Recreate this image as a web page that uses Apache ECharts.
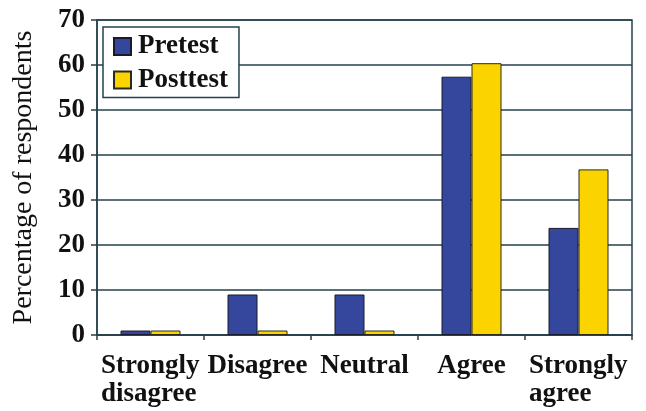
<!DOCTYPE html>
<html>
<head>
<meta charset="utf-8">
<script src="https://cdn.jsdelivr.net/npm/echarts@6/dist/echarts.min.js"></script>
<style>
  html, body { margin: 0; padding: 0; background: #ffffff; }
  #chart { width: 646px; height: 411px; }
</style>
</head>
<body>
<div id="chart"></div>
<script>
// Survey responses before and after the session (percent of respondents)
const categories = ['Strongly\ndisagree', 'Disagree', 'Neutral', 'Agree', 'Strongly\nagree'];
const pretest = [1, 9, 9, 57.4, 23.8];
const posttest = [1, 1, 1, 60.4, 36.8];
const seriesNames = ['Pretest', 'Posttest'];
const yTicks = { min: 0, max: 70, interval: 10 };

const serif = '"Liberation Serif", "Times New Roman", serif';
const ink = '#111111';
const rule = '#24424c';

const chart = echarts.init(document.getElementById('chart'), null, { renderer: 'canvas' });

chart.setOption({
  backgroundColor: '#ffffff',
  animation: false,
  grid: {
    left: 97, right: 14, top: 20, bottom: 76,
    outerBoundsMode: 'none',
    containLabel: false,
    show: true, borderColor: rule, borderWidth: 1.5, backgroundColor: 'transparent'
  },
  legend: {
    orient: 'vertical',
    left: 103, top: 27,
    padding: [6, 11, 4, 10],
    icon: 'rect',
    itemWidth: 17, itemHeight: 17, itemGap: 6.5,
    borderColor: rule, borderWidth: 1.5, backgroundColor: '#ffffff',
    textStyle: { fontFamily: serif, fontWeight: 'bold', fontSize: 27, color: ink, padding: [0, 0, 0, 2] },
    data: seriesNames
  },
  xAxis: {
    type: 'category',
    data: categories,
    axisLine: { lineStyle: { color: rule, width: 1.5 } },
    axisTick: { show: true, length: 5, lineStyle: { color: rule, width: 1.5 } },
    axisLabel: {
      interval: 0,
      margin: 17,
      color: ink,
      formatter: function (v) {
        if (v.indexOf('\n') >= 0) {
          return v.split('\n').map(function (s) { return '{m|' + s + '}'; }).join('\n');
        }
        return '{s|' + v + '}';
      },
      rich: {
        m: { fontFamily: serif, fontWeight: 'bold', fontSize: 27, lineHeight: 28, width: 99, align: 'left', color: ink },
        s: { fontFamily: serif, fontWeight: 'bold', fontSize: 27, lineHeight: 28, color: ink }
      }
    }
  },
  yAxis: {
    type: 'value',
    min: yTicks.min, max: yTicks.max, interval: yTicks.interval,
    name: 'Percentage of respondents',
    nameLocation: 'middle',
    nameRotate: 90,
    nameGap: 59,
    nameTextStyle: { fontFamily: serif, fontSize: 28, color: ink },
    axisLine: { show: true, lineStyle: { color: rule, width: 1.5 } },
    axisTick: { show: true, length: 6, lineStyle: { color: rule, width: 1.5 } },
    axisLabel: { margin: 12, fontFamily: serif, fontWeight: 'bold', fontSize: 27, color: ink },
    splitLine: { show: true, lineStyle: { color: rule, width: 1.5 } }
  },
  series: [
    {
      name: seriesNames[0], type: 'bar', data: pretest,
      barWidth: 30, barGap: '0%',
      itemStyle: { color: '#35479c', borderColor: '#1a1a2a', borderWidth: 1 }
    },
    {
      name: seriesNames[1], type: 'bar', data: posttest,
      barWidth: 30, barGap: '0%',
      itemStyle: { color: '#fbd400', borderColor: '#2a2a1a', borderWidth: 1 }
    }
  ]
});
</script>
</body>
</html>
